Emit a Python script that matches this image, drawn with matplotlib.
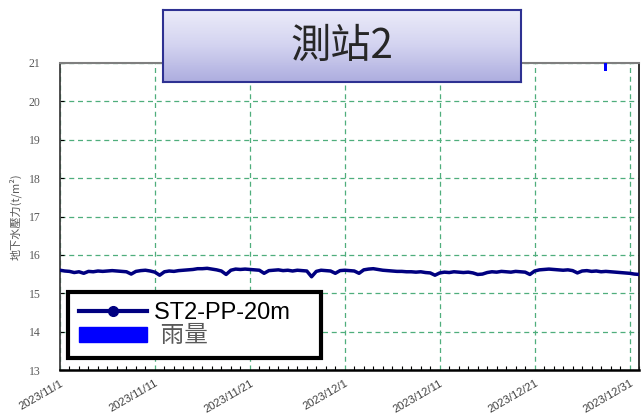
import matplotlib
matplotlib.use('Agg')
import matplotlib.pyplot as plt
import matplotlib.dates as mdates
from matplotlib.colors import LinearSegmentedColormap
from matplotlib.lines import Line2D
from matplotlib.patches import Patch
import numpy as np
import pandas as pd

plt.rcParams['font.family'] = ['Liberation Sans', 'Noto Sans CJK TC', 'DejaVu Sans']

# 資料 (每12小時)
t_start = '2023-11-01'
pp_20m = [
    15.60, 15.58, 15.57, 15.54, 15.56, 15.52, 15.57, 15.56, 15.58, 15.57,
    15.58, 15.59, 15.58, 15.57, 15.56, 15.50, 15.57, 15.59, 15.60, 15.58,
    15.55, 15.47, 15.56, 15.58, 15.57, 15.59, 15.60, 15.61, 15.62, 15.64,
    15.64, 15.65, 15.63, 15.61, 15.58, 15.49, 15.60, 15.63, 15.62, 15.63,
    15.62, 15.61, 15.60, 15.52, 15.59, 15.60, 15.61, 15.59, 15.60, 15.58,
    15.60, 15.59, 15.58, 15.43, 15.57, 15.60, 15.59, 15.58, 15.52, 15.59,
    15.60, 15.59, 15.58, 15.52, 15.61, 15.63, 15.64, 15.62, 15.60, 15.59,
    15.58, 15.57, 15.57, 15.56, 15.56, 15.55, 15.56, 15.54, 15.53, 15.47,
    15.53, 15.55, 15.54, 15.56, 15.55, 15.54, 15.55, 15.53, 15.49, 15.50,
    15.54, 15.56, 15.55, 15.57, 15.56, 15.55, 15.57, 15.56, 15.55, 15.49,
    15.58, 15.61, 15.62, 15.63, 15.62, 15.61, 15.60, 15.61, 15.59, 15.53,
    15.58, 15.59, 15.57, 15.58, 15.56, 15.57, 15.56, 15.55, 15.54, 15.53,
    15.52, 15.50, 15.49,
]
pp_time = pd.date_range(t_start, periods=len(pp_20m), freq='12h')

rain_time = pd.to_datetime(['2023-12-28 11:30'])
rain = [2.5]

tick_dates = ['2023-11-01', '2023-11-11', '2023-11-21', '2023-12-01',
              '2023-12-11', '2023-12-21', '2023-12-31']
tick_labels = ['2023/11/1', '2023/11/11', '2023/11/21', '2023/12/1',
               '2023/12/11', '2023/12/21', '2023/12/31']

fig = plt.figure(figsize=(6.41, 4.15), dpi=100)
ax = fig.add_axes([0.0936, 0.1084, 0.9034, 0.7398])

ax.plot(pp_time, pp_20m, color='#000080', lw=2.5, zorder=3)

ax.set_xlim(pd.Timestamp('2023-11-01'), pd.Timestamp('2024-01-01'))
ax.set_ylim(13, 21)
ax.set_yticks(range(13, 22))
ax.set_xticks(pd.to_datetime(tick_dates))
ax.set_xticklabels(tick_labels, rotation=30, ha='right', rotation_mode='anchor',
                   fontsize=8, color='#404040')
ax.xaxis.set_minor_locator(mdates.DayLocator())
ax.tick_params(axis='x', which='major', direction='in', length=0, pad=6)
ax.tick_params(axis='x', which='minor', direction='in', length=3, width=0.8, color='black')
ax.tick_params(axis='y', direction='in', length=3, pad=14)
for lab in ax.get_yticklabels():
    lab.set_fontfamily('Liberation Serif')
    lab.set_fontsize(8.5)
    lab.set_color('#595959')

ax.grid(True, which='major', color='#4fae7c', ls=(0, (4, 3)), lw=0.9)
ax.set_ylabel('地下水壓力(t/m²)', fontsize=8, color='#595959', labelpad=5,
              family=['Noto Sans CJK TC', 'DejaVu Sans'])

ax.spines['top'].set_color('#7f7f7f')
ax.spines['top'].set_linewidth(1.5)
ax.spines['left'].set_color('#404040')
ax.spines['left'].set_linewidth(1.3)
ax.spines['bottom'].set_color('black')
ax.spines['bottom'].set_linewidth(1.8)
ax.spines['right'].set_color('#202020')
ax.spines['right'].set_linewidth(1.3)

# 雨量 (倒置副軸)
ax2 = ax.twinx()
ax2.bar(rain_time, rain, width=0.32, color='#0000ff', zorder=4)
ax2.set_ylim(100, 0)
ax2.set_yticks([])
for s in ax2.spines.values():
    s.set_visible(False)

handles = [Line2D([0], [0], color='#000080', lw=3, marker='o', markersize=7),
           Patch(color='#0000ff')]
leg = ax2.legend(handles, ['ST2-PP-20m   ', ' 雨量'], loc='lower left',
                 bbox_to_anchor=(0.014, 0.039), borderaxespad=0, fancybox=False,
                 framealpha=1, edgecolor='black', fontsize=17, handlelength=2.9,
                 handletextpad=0.3, labelspacing=0.05, borderpad=0.45,
                 handleheight=0.6)
leg.get_frame().set_linewidth(3)
leg.get_texts()[1].set_color('#595959')

# 標題框
tax = fig.add_axes([0.2543, 0.8024, 0.5585, 0.1735])
grad = np.linspace(0, 1, 100).reshape(-1, 1)
cmap = LinearSegmentedColormap.from_list('tg', ['#ececf9', '#d3d3f0', '#adaddf'])
tax.imshow(grad, aspect='auto', cmap=cmap, extent=[0, 1, 0, 1], origin='upper')
tax.set_xticks([])
tax.set_yticks([])
for s in tax.spines.values():
    s.set_color('#2e3192')
    s.set_linewidth(1.5)
tax.text(0.5, 0.5, '測站2', ha='center', va='center', fontsize=29, color='#262626',
         fontweight='light', transform=tax.transAxes,
         family=['Noto Sans CJK TC', 'DejaVu Sans'])

fig.savefig('out.png', dpi=100)
